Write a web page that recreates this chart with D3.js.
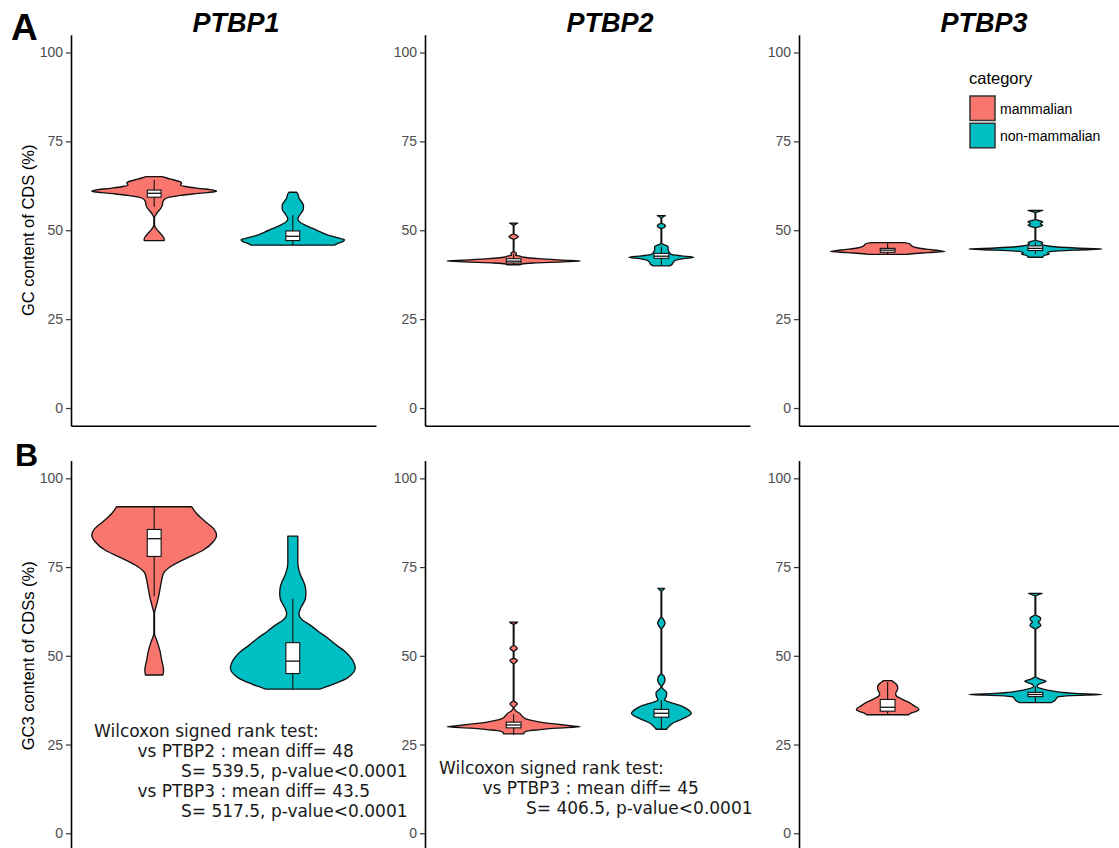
<!DOCTYPE html>
<html>
<head>
<meta charset="utf-8">
<script src="https://cdn.jsdelivr.net/npm/d3@7"></script>
<style>
  html, body { margin: 0; padding: 0; background: #ffffff; }
  svg { display: block; }
</style>
</head>
<body>
<script>
// ---------------- DATA ----------------
const genes = ["PTBP1", "PTBP2", "PTBP3"];
const categories = ["mammalian", "non-mammalian"];
const yTicks = [0, 25, 50, 75, 100];
const yTickLabels = ["0", "25", "50", "75", "100"];
const rowLabels = ["A", "B"];
const yTitles = ["GC content of CDS (%)", "GC3 content of CDSs (%)"];
const legendTitle = "category";

// Violin profiles: [value (%), relative density 0..100 (100 = widest violin of the panel)]
// Row A : GC content of CDS
const gcPTBP1Mam = [[65.1,13],[64.7,20],[64.2,30],[63.6,42],[63.2,44],[62.8,42],[62.3,50],[61.8,70],[61.3,95],[61.0,100],[60.6,85],[60.2,62],[59.8,42],[59.3,25],[58.8,17],[58.0,14],[57.0,13],[56.0,10],[55.0,5],[54.2,2],[53.5,0.5],[51.5,0.5],[50.5,3],[49.5,8],[48.5,13],[47.6,16],[47.1,16]];
const gcPTBP1Non = [[60.7,6],[60.2,8],[59.0,10],[58.0,14],[57.0,17],[56.0,17],[55.0,14],[54.0,10],[53.2,8],[52.5,10],[51.5,19],[50.5,32],[49.5,45],[48.5,59],[47.8,74],[47.3,83],[46.8,80],[46.3,72],[45.8,67]];
const gcPTBP2Mam = [[52.0,6],[51.7,3],[51.3,0.5],[49.0,0.5],[48.6,4.5],[48.2,7],[47.8,4.5],[47.4,0.5],[44.0,0.5],[43.6,4],[43.3,4],[43.0,3],[42.8,8],[42.4,15],[42.0,38],[41.6,75],[41.35,100],[41.1,75],[40.8,30],[40.5,12],[40.3,10]];
const gcPTBP2Non = [[54.1,6],[53.8,3],[53.4,0.5],[52.0,0.5],[51.6,4.5],[51.2,6],[50.8,4.5],[50.4,0.5],[46.3,0.5],[45.9,4.5],[45.4,10],[44.6,10],[43.8,12],[43.2,15],[42.8,30],[42.4,49],[42.0,33],[41.5,21],[41.0,18],[40.4,16],[40.0,12]];
const gcPTBP3Mam = [[46.5,24],[46.2,33],[45.8,35],[45.4,38],[45.0,46],[44.6,62],[44.2,80],[44.0,86],[43.7,60],[43.4,36],[43.2,30]];
const gcPTBP3Non = [[55.6,11],[55.3,6],[55.0,0.5],[53.0,0.5],[52.7,6],[52.4,11],[51.8,7.5],[51.4,11],[51.0,6],[50.7,0.5],[47.2,0.5],[46.8,7.5],[46.5,11],[46.1,9],[45.5,22],[45.0,60],[44.7,100],[44.4,60],[44.0,22],[43.6,18],[43.3,21],[42.9,13],[42.4,11]];

// Row B : GC3 content of CDSs
const gc3PTBP1Mam = [[92.0,60],[90.1,68],[87.8,82],[85.9,95],[84.0,100],[82.2,95],[79.8,79],[77.5,52],[75.1,26],[73.3,15],[70.4,11],[66.6,7],[63.8,3],[62.0,0.5],[56.3,0.5],[54.4,4],[51.6,9],[48.8,12],[46.0,15],[44.6,14]];
const gc3PTBP1Non = [[83.7,8],[80.0,8],[76.0,8],[74.0,10],[72.5,13],[71.0,17],[69.5,20],[67.5,21],[66.0,20],[64.5,16],[63.2,12],[62.0,10],[61.0,11],[60.0,16],[58.5,29],[57.0,40],[55.0,56],[53.0,70],[51.0,85],[49.0,95],[47.5,99],[46.5,100],[45.5,98],[44.5,93],[43.5,85],[42.5,72],[41.5,58],[40.6,43]];
const gc3PTBP2Mam = [[59.5,6],[59.2,4],[58.8,0.5],[53.0,0.5],[52.5,4],[52.1,5.5],[51.6,3],[51.2,0.5],[49.4,0.5],[49.0,4],[48.6,5.5],[48.1,3],[47.7,0.5],[37.3,0.5],[36.8,4],[36.4,5.5],[35.9,3],[35.4,0.5],[35.0,1],[34.4,4],[33.8,9],[33.2,12],[32.6,15],[32.0,22],[31.4,38],[30.8,62],[30.3,85],[30.0,100],[29.6,65],[29.2,40],[28.8,20],[28.4,16],[28.0,15]];
const gc3PTBP2Non = [[69.0,5],[68.6,3],[68.2,0.5],[61.0,0.5],[60.3,3],[59.2,5.5],[58.2,3],[57.5,0.5],[45.0,0.5],[44.3,4],[43.1,5.5],[42.0,3],[41.3,0.5],[40.6,3],[39.6,8],[38.6,7.5],[37.6,5],[37.2,7.5],[36.6,18],[36.0,28],[35.2,37],[34.4,43],[33.8,45],[33.2,42],[32.5,35],[31.8,26],[31.0,17],[30.2,12],[29.6,9],[29.3,8]];
const gc3PTBP3Mam = [[43.0,6],[42.6,9],[42.0,13],[41.3,15],[40.6,15],[40.0,13.5],[39.3,12],[38.6,13.5],[38.0,19.5],[37.3,27],[36.6,34.5],[35.9,40],[35.2,46],[34.8,47],[34.3,42],[33.8,34.5],[33.4,31.5]];
const gc3PTBP3Non = [[67.6,10],[67.2,5],[66.8,0.5],[61.6,0.5],[61.1,4.5],[60.6,8],[60.0,7],[59.5,4.5],[59.0,7],[58.5,8],[58.0,4.5],[57.5,0.5],[44.2,0.5],[43.5,6],[42.8,16],[42.1,6],[41.6,3],[41.2,3],[40.6,12],[40.1,25],[39.7,40],[39.4,60],[39.1,100],[38.8,55],[38.4,34],[37.8,31],[37.2,28],[36.8,24]];

// Box statistics: [lower whisker, Q1, median, Q3, upper whisker] per gene, per category
const gcBoxMam = [[56.6,59.3,60.4,61.3,64.1],[40.4,40.8,41.3,42.0,43.4],[43.2,43.8,44.4,44.9,46.4]];
const gcBoxNon = [[45.8,47.1,48.3,49.8,54.3],[40.0,42.1,42.7,43.5,45.4],[43.3,44.3,44.9,45.6,46.6]];
const gc3BoxMam = [[66.8,78.0,83.0,85.6,92.0],[27.7,29.7,30.5,31.3,33.5],[33.4,34.4,35.5,37.7,42.6]];
const gc3BoxNon = [[40.6,45.0,48.5,53.7,66.1],[29.3,32.7,33.8,34.9,37.5],[36.8,38.5,39.1,39.7,41.5]];

// Wilcoxon annotations (row B, panels 1 and 2)
const wilcoxPTBP1 = ["Wilcoxon signed rank test:", "vs PTBP2 : mean diff= 48", "S= 539.5, p-value<0.0001", "vs PTBP3 : mean diff= 43.5", "S= 517.5, p-value<0.0001"];
const wilcoxPTBP2 = ["Wilcoxon signed rank test:", "vs PTBP3 : mean diff= 45", "S= 406.5, p-value<0.0001"];

// ---------------- LAYOUT / STYLE ----------------
const W = 1119, H = 848;
const fillColors = ["#F8766D", "#00BFC4"];
const panelX = [[71, 376], [425, 750], [799, 1124]];
const rowRange = [[425.8, 34.7], [851, 460.6]];
const titleX = [236, 610, 984];
const sansFont = "'Liberation Sans', Arial, Helvetica, sans-serif";

const rowsData = [
  { violins: [[gcPTBP1Mam, gcPTBP1Non], [gcPTBP2Mam, gcPTBP2Non], [gcPTBP3Mam, gcPTBP3Non]], boxes: [gcBoxMam, gcBoxNon] },
  { violins: [[gc3PTBP1Mam, gc3PTBP1Non], [gc3PTBP2Mam, gc3PTBP2Non], [gc3PTBP3Mam, gc3PTBP3Non]], boxes: [gc3BoxMam, gc3BoxNon] }
];

const svg = d3.select("body").append("svg")
  .attr("width", W).attr("height", H)
  .style("background", "#ffffff");

rowsData.forEach((row, ri) => {
  const y = d3.scaleLinear().domain([-5, 105]).range(rowRange[ri]);

  genes.forEach((gene, gi) => {
    const x = d3.scalePoint().domain(categories).range(panelX[gi]).padding(0.6);
    const step = x.step();
    const wScale = d3.scaleLinear().domain([0, 100]).range([0, 0.45 * step]);
    const boxHalf = 0.05 * step;
    const g = svg.append("g");

    categories.forEach((cat, ci) => {
      const cx = x(cat);
      const prof = row.violins[gi][ci];
      const area = d3.area()
        .curve(d3.curveMonotoneY)
        .y(d => y(d[0]))
        .x0(d => cx - wScale(d[1]))
        .x1(d => cx + wScale(d[1]));
      g.append("path")
        .datum(prof)
        .attr("d", area)
        .attr("fill", fillColors[ci])
        .attr("stroke", "#111")
        .attr("stroke-width", 1.35)
        .attr("stroke-linejoin", "round");

      const [lo, q1, med, q3, hi] = row.boxes[ci][gi];
      g.append("line")
        .attr("x1", cx).attr("x2", cx)
        .attr("y1", y(hi)).attr("y2", y(q3))
        .attr("stroke", "#111").attr("stroke-width", 1.1);
      g.append("line")
        .attr("x1", cx).attr("x2", cx)
        .attr("y1", y(q1)).attr("y2", y(lo))
        .attr("stroke", "#111").attr("stroke-width", 1.1);
      g.append("rect")
        .attr("x", cx - boxHalf).attr("width", 2 * boxHalf)
        .attr("y", y(q3)).attr("height", y(q1) - y(q3))
        .attr("fill", "#ffffff")
        .attr("stroke", "#111").attr("stroke-width", 1.1);
      g.append("line")
        .attr("x1", cx - boxHalf).attr("x2", cx + boxHalf)
        .attr("y1", y(med)).attr("y2", y(med))
        .attr("stroke", "#111").attr("stroke-width", 1.3);
    });

    // axes
    const yAxis = d3.axisLeft(y).tickValues(yTicks)
      .tickFormat((d, i) => yTickLabels[i])
      .tickSize(5).tickSizeOuter(0).tickPadding(3);
    const ya = svg.append("g")
      .attr("transform", `translate(${panelX[gi][0]},0)`)
      .call(yAxis);
    ya.select(".domain").attr("stroke", "#000").attr("stroke-width", 1.6);
    ya.selectAll(".tick line").attr("stroke", "#333").attr("stroke-width", 1.2);
    ya.selectAll(".tick text")
      .attr("fill", "#4d4d4d")
      .style("font-family", sansFont)
      .style("font-size", "14px");

    const xAxis = d3.axisBottom(x).tickValues([]).tickSizeOuter(0);
    const xa = svg.append("g")
      .attr("transform", `translate(0,${rowRange[ri][0]})`)
      .call(xAxis);
    xa.select(".domain").attr("stroke", "#000").attr("stroke-width", 1.6);

    if (ri === 0) {
      svg.append("text")
        .attr("x", titleX[gi]).attr("y", 31.5)
        .attr("text-anchor", "middle")
        .style("font-family", sansFont)
        .style("font-size", "27px")
        .style("font-weight", "bold")
        .style("font-style", "italic")
        .attr("fill", "#000")
        .text(gene);
    }
  });

  // y-axis title
  const yMid = (rowRange[ri][0] + rowRange[ri][1]) / 2;
  svg.append("text")
    .attr("transform", `translate(28,${yMid}) rotate(-90)`)
    .attr("text-anchor", "middle")
    .attr("dominant-baseline", "central")
    .style("font-family", sansFont)
    .style("font-size", "16.5px")
    .attr("fill", "#000")
    .text(yTitles[ri]);
});

// Row letters
svg.append("text").attr("x", 11).attr("y", 40)
  .style("font-family", sansFont).style("font-size", "37px").style("font-weight", "bold")
  .attr("fill", "#000").text(rowLabels[0]);
svg.append("text").attr("x", 15).attr("y", 465.5)
  .style("font-family", sansFont).style("font-size", "32px").style("font-weight", "bold")
  .attr("fill", "#000").text(rowLabels[1]);

// Legend
const lg = svg.append("g");
lg.append("text").attr("x", 969).attr("y", 84)
  .style("font-family", sansFont).style("font-size", "16.5px").attr("fill", "#000")
  .text(legendTitle);
categories.forEach((cat, ci) => {
  const ky = 96 + ci * 27.3;
  lg.append("rect")
    .attr("x", 970).attr("y", ky).attr("width", 25).attr("height", 24.5)
    .attr("fill", fillColors[ci]).attr("stroke", "#333").attr("stroke-width", 1.5);
  lg.append("text")
    .attr("x", 1000).attr("y", ky + 12.5)
    .attr("dominant-baseline", "central")
    .style("font-family", sansFont).style("font-size", "14px").attr("fill", "#000")
    .text(cat);
});

// Annotations
const annFont = "'DejaVu Sans', sans-serif";
const ann1X = [94, 137.5, 181, 137.5, 181];
wilcoxPTBP1.forEach((t, i) => {
  svg.append("text").attr("x", ann1X[i]).attr("y", 736.7 + i * 20)
    .style("font-family", annFont).style("font-size", "17px").attr("fill", "#1a1a1a")
    .text(t);
});
const ann2X = [439, 482.5, 526];
wilcoxPTBP2.forEach((t, i) => {
  svg.append("text").attr("x", ann2X[i]).attr("y", 774.3 + i * 20)
    .style("font-family", annFont).style("font-size", "17px").attr("fill", "#1a1a1a")
    .text(t);
});
</script>
</body>
</html>
